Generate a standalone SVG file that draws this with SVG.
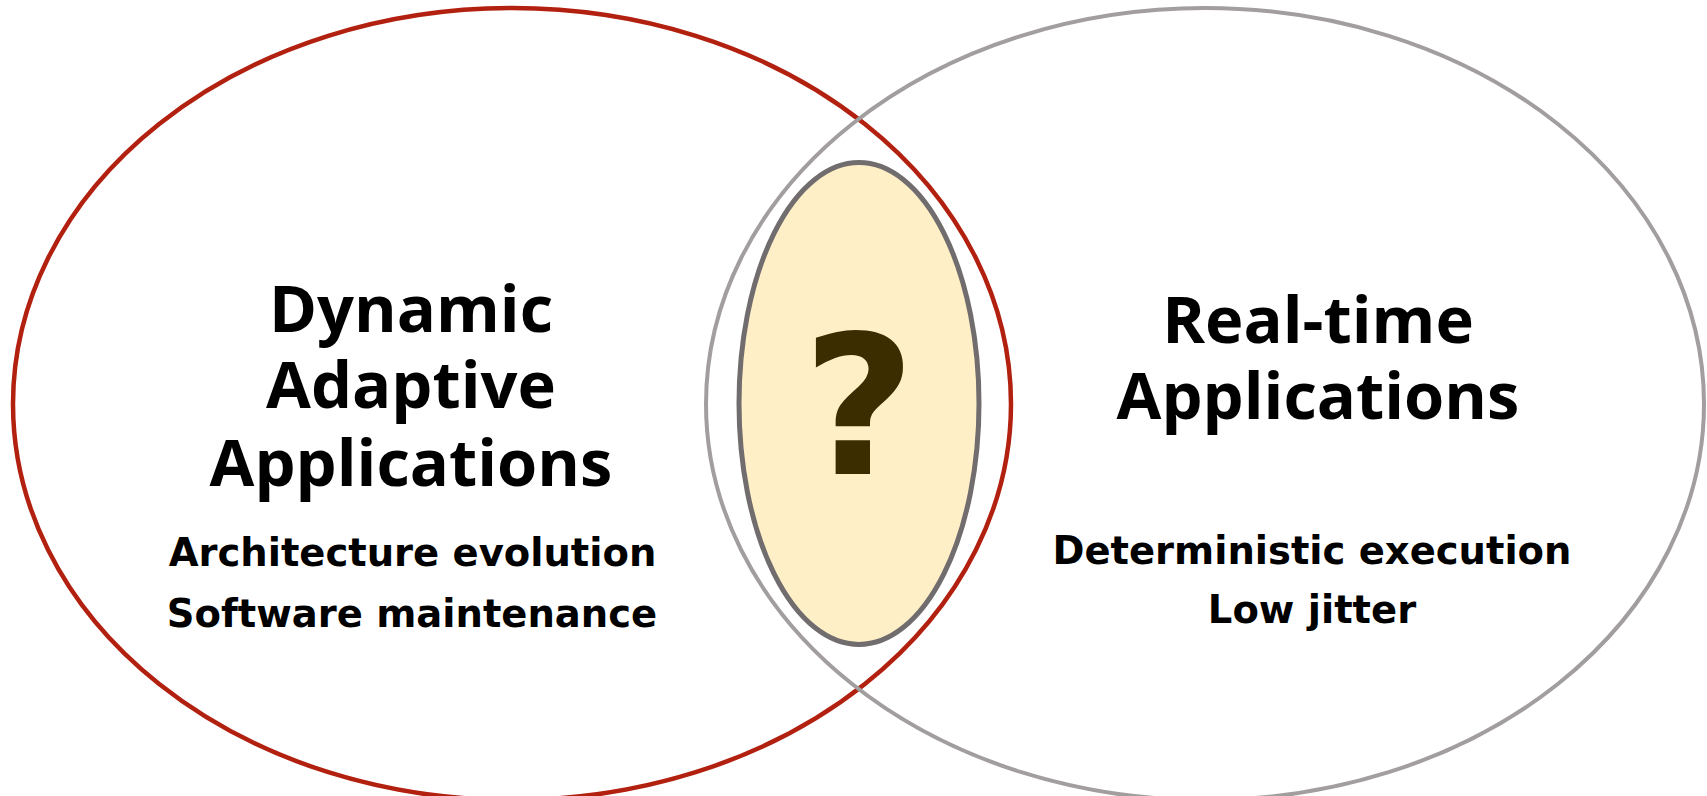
<svg xmlns="http://www.w3.org/2000/svg" width="1707" height="796" viewBox="0 0 1707 796">
<style>
.title{font-family:"Open Sans","DejaVu Sans",sans-serif;font-weight:700;font-size:65px;fill:#000;text-anchor:middle}
.sub{font-family:"DejaVu Sans","Open Sans",sans-serif;font-weight:700;font-size:38.5px;fill:#000;text-anchor:middle}
.q{font-family:"DejaVu Sans",sans-serif;font-weight:700;font-size:195px;fill:#3C2D00;text-anchor:middle}
</style>
<rect width="1707" height="796" fill="#fff"/>
<g id="dynamic-adaptive">
<ellipse cx="512" cy="404" rx="499" ry="396" fill="none" stroke="#B22010" stroke-width="4.5"/>
</g>
<g id="real-time">
<ellipse cx="1205" cy="404" rx="499" ry="396" fill="none" stroke="#A29E9F" stroke-width="4"/>
</g>
<g id="intersection">
<ellipse cx="859" cy="403.5" rx="120" ry="241" fill="#FFEFC6" stroke="#716D6E" stroke-width="5"/>
<text class="q" x="859" y="474">?</text>
</g>
<g id="dynamic-adaptive-labels">
<text class="title" x="411" y="332">Dynamic</text>
<text class="title" x="411" y="408">Adaptive</text>
<text class="title" x="411" y="486">Applications</text>
<text class="sub" x="412.5" y="566">Architecture evolution</text>
<text class="sub" x="412" y="627">Software maintenance</text>
</g>
<g id="real-time-labels">
<text class="title" x="1318" y="343">Real-time</text>
<text class="title" x="1318" y="419">Applications</text>
<text class="sub" x="1312" y="564">Deterministic execution</text>
<text class="sub" x="1312" y="623">Low jitter</text>
</g>
<g id="connectors"/>
</svg>
